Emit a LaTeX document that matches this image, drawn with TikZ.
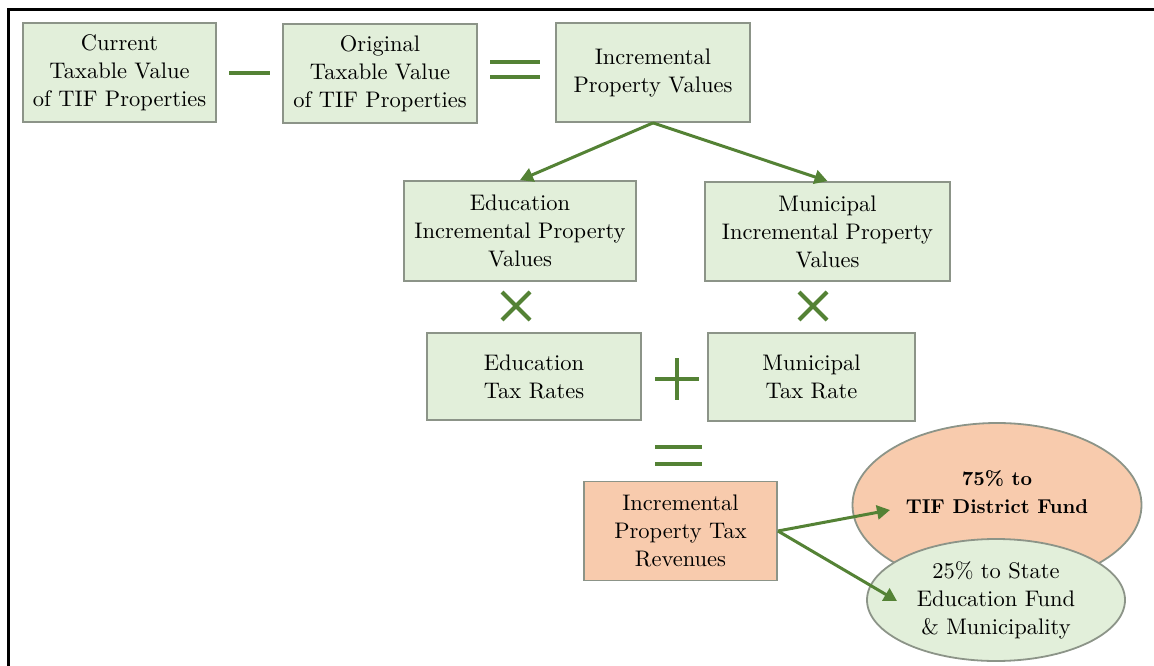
\documentclass[tikz,border=0pt]{standalone}
\usepackage{fontspec}
\setmainfont{lmroman10-regular}[Extension=.otf, BoldFont=lmroman10-bold]
\usepackage{tikz}
\usetikzlibrary{positioning,
				shapes.geometric,
				arrows.meta,
				calc}
\definecolor{boxgreen}{RGB}{226,239,218}
\definecolor{boxpeach}{RGB}{248,203,173}
\definecolor{opgreen}{RGB}{84,130,53}
\definecolor{edgegray}{RGB}{140,148,136}

\begin{document}
\begin{tikzpicture}[x=1pt,y=-1pt,
		every node/.style={font=\fontsize{22.5}{28}\selectfont, align=center, inner sep=0pt},
		greenbox/.style={rectangle, draw=edgegray, line width=1.8pt, fill=boxgreen},
		peachbox/.style={rectangle, draw=edgegray, line width=1.8pt, fill=boxpeach},
		oper/.style={draw=opgreen, line width=4.5pt},
		flowarrow/.style={draw=opgreen, line width=3pt, -{Triangle[length=13pt,width=14pt]}}]
	\useasboundingbox (0,0) rectangle (1154,666);
	\draw[line width=3pt] (1154,10) -- (8,10) -- (8,666);

	\node[greenbox, minimum width=193pt, minimum height=99pt] (cur) at (119.5,72.5) {Current\\Taxable Value\\of TIF Properties};
	\node[greenbox, minimum width=194pt, minimum height=99pt] (orig) at (380,73.5) {Original\\Taxable Value\\of TIF Properties};
	\node[greenbox, minimum width=194pt, minimum height=99pt] (incr) at (653,72.5) {Incremental\\Property Values};

	\node[greenbox, minimum width=232pt, minimum height=100pt] (eduinc) at (520,231) {Education\\Incremental Property\\Values};
	\node[greenbox, minimum width=245pt, minimum height=99pt] (muninc) at (827.5,231.5) {Municipal\\Incremental Property\\Values};

	\node[greenbox, minimum width=214pt, minimum height=87pt] (edurate) at (534,376.5) {Education\\Tax Rates};
	\node[greenbox, minimum width=207pt, minimum height=88pt] (munrate) at (811.5,377) {Municipal\\Tax Rate};

	\node[peachbox, minimum width=193pt, minimum height=99pt] (rev) at (680.5,531) {Incremental\\Property Tax\\Revenues};

	\node[ellipse, draw=edgegray, line width=1.8pt, fill=boxpeach, minimum width=289pt, minimum height=164pt] (fund) at (997,505) {};
	\node[font=\fontsize{20}{28}\selectfont\bfseries] (fundtxt) at (997,492) {75\% to\\TIF District Fund};
	\node[ellipse, draw=edgegray, line width=1.8pt, fill=boxgreen, minimum width=258pt, minimum height=122pt] (share) at (996,600) {25\% to State\\Education Fund\\\& Municipality};

	\coordinate (minus) at (249.5,73);
	\coordinate (eqtop) at (515,69.5);
	\coordinate (timesl) at (516,306);
	\coordinate (timesr) at (813,306);
	\coordinate (plus) at (677,379);
	\coordinate (eqlow) at (678.5,455.5);

	\draw[oper] ([xshift=-20.5pt]minus) -- ([xshift=20.5pt]minus);
	\draw[oper] ($(eqtop)+(-25,-7.5)$) -- ++(50,0) ($(eqtop)+(-25,7.5)$) -- ++(50,0);
	\draw[oper, line width=4pt] ($(timesl)+(-14,-14)$) -- ($(timesl)+(14,14)$) ($(timesl)+(-14,14)$) -- ($(timesl)+(14,-14)$);
	\draw[oper, line width=4pt] ($(timesr)+(-14,-14)$) -- ($(timesr)+(14,14)$) ($(timesr)+(-14,14)$) -- ($(timesr)+(14,-14)$);
	\draw[oper] ($(plus)+(-22,0)$) -- ($(plus)+(22,0)$) ($(plus)+(0,-21)$) -- ($(plus)+(0,21)$);
	\draw[oper] ($(eqlow)+(-23.5,-8.5)$) -- ++(47,0) ($(eqlow)+(-23.5,8.5)$) -- ++(47,0);

	\coordinate (fundtip) at (890,510);
	\coordinate (sharetip) at (897,601);
	\draw[flowarrow] (incr.south) -- (eduinc.north);
	\draw[flowarrow] (incr.south) -- (muninc.north);
	\draw[flowarrow] (rev.east) -- (fundtip);
	\draw[flowarrow] (rev.east) -- (sharetip);
\end{tikzpicture}
\end{document}
